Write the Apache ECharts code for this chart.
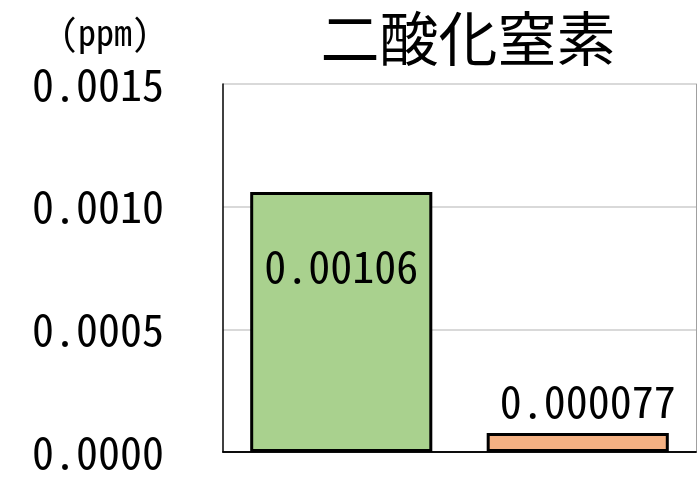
<!DOCTYPE html>
<html>
<head>
<meta charset="utf-8">
<script src="https://cdn.jsdelivr.net/npm/echarts@6/dist/echarts.min.js"></script>
<style>
  html, body { margin: 0; padding: 0; background: #fff; }
  #chart { width: 697px; height: 478px; }
</style>
</head>
<body>
<div id="chart"></div>
<script>
const categories = ['A', 'B']
const values = [0.00106, 0.000077]
const barColors = ['#a9d18e', '#f4b183']
const yTicks = [0, 0.0005, 0.0010, 0.0015]

const numFont = '"Noto Sans Mono CJK JP", "Liberation Mono", monospace'
const cjkFont = '"Noto Sans CJK JP", sans-serif'

const chart = echarts.init(document.getElementById('chart'))

const option = {
  animation: false,
  backgroundColor: '#fff',
  title: {
    text: '二酸化窒素',
    left: 463,
    top: 4,
    textAlign: 'center',
    textStyle: { fontFamily: cjkFont, fontSize: 59, fontWeight: 'normal', color: '#000' }
  },
  graphic: [{
    type: 'text',
    left: 60,
    top: 14,
    style: { text: '(ppm)', font: '36px ' + numFont, fill: '#000' }
  }],
  grid: { left: 223, right: 1, top: 84, bottom: 26, show: false },
  xAxis: [{
    type: 'category',
    data: categories,
    axisLine: { lineStyle: { color: '#000', width: 1.5 } },
    axisTick: { show: false },
    axisLabel: { show: false }
  }, {
    type: 'category',
    position: 'top',
    data: categories,
    axisLine: { lineStyle: { color: '#000', width: 1.5 } },
    axisTick: { show: false },
    axisLabel: { show: false }
  }],
  yAxis: [{
    type: 'value',
    min: yTicks[0],
    max: yTicks[yTicks.length - 1],
    interval: 0.0005,
    axisLine: { show: true, lineStyle: { color: '#000', width: 1.5 } },
    axisTick: { show: false },
    splitLine: { lineStyle: { color: '#d9d9d9', width: 2 } },
    axisLabel: {
      margin: 59,
      fontFamily: numFont,
      fontSize: 44,
      color: '#000',
      padding: [0, 0, 6, 0],
      formatter: v => v.toFixed(4)
    }
  }, {
    type: 'value',
    position: 'right',
    min: yTicks[0],
    max: yTicks[yTicks.length - 1],
    interval: 0.0005,
    axisLine: { show: true, lineStyle: { color: '#a0a0a0', width: 1 } },
    axisTick: { show: false },
    axisLabel: { show: false },
    splitLine: { show: false }
  }],
  series: [{
    type: 'bar',
    barWidth: '77%',
    data: values.map((v, i) => ({
      value: v,
      itemStyle: { color: barColors[i] },
      label: i === 0
        ? { position: 'insideTop', distance: 52 }
        : { position: 'top', distance: 10, offset: [10, 0] }
    })),
    itemStyle: { borderColor: '#000', borderWidth: 3 },
    label: {
      show: true,
      fontFamily: numFont,
      fontSize: 44,
      color: '#000',
      formatter: p => String(p.value)
    }
  }]
}

chart.setOption(option)
</script>
</body>
</html>
